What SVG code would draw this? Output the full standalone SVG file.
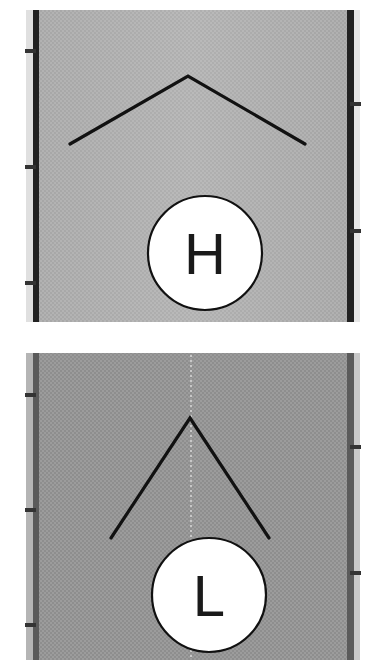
<svg xmlns="http://www.w3.org/2000/svg" width="390" height="660" viewBox="0 0 390 660">
<style>
.chev{fill:none;stroke:#111;stroke-width:3.2;stroke-linecap:round;stroke-linejoin:miter}
.badge{fill:#fff;stroke:#111;stroke-width:2.2}
.lbl{font-family:"Liberation Sans",Arial,sans-serif;font-size:58px;fill:#1a1a1a;text-anchor:middle}
.tick{stroke:#333;stroke-width:4}
</style>
<defs>
<pattern id="tex" width="4" height="4" patternUnits="userSpaceOnUse">
<rect width="4" height="4" fill="#000" fill-opacity="0"/>
<rect x="0" y="0" width="2" height="2" fill="#fff" fill-opacity="0.12"/>
<rect x="2" y="2" width="2" height="2" fill="#fff" fill-opacity="0.12"/>
</pattern>
<linearGradient id="bandTop" x1="0" x2="1" y1="0" y2="0">
<stop offset="0" stop-color="#a6a6a6"/>
<stop offset="0.5" stop-color="#b0b0b0"/>
<stop offset="1" stop-color="#a4a4a4"/>
</linearGradient>
</defs>
<rect width="390" height="660" fill="#fff"/>
<g id="panel-high">
<rect x="26" y="10" width="334" height="312" fill="url(#bandTop)"/>
<rect x="26" y="10" width="334" height="312" fill="url(#tex)"/>
<rect x="26" y="10" width="8" height="312" fill="#e0e0e0"/>
<rect x="33" y="10" width="6" height="312" fill="#222"/>
<rect x="347" y="10" width="7" height="312" fill="#222"/>
<rect x="354" y="10" width="6" height="312" fill="#e6e6e6"/>
<line class="tick" x1="25" y1="51" x2="36" y2="51"/>
<line class="tick" x1="25" y1="167" x2="36" y2="167"/>
<line class="tick" x1="25" y1="283" x2="36" y2="283"/>
<line class="tick" x1="350" y1="104" x2="361" y2="104"/>
<line class="tick" x1="350" y1="231" x2="361" y2="231"/>
<polyline class="chev" points="70,144 188,76 305,144"/>
<g id="node-H">
<circle class="badge" cx="205" cy="253" r="57"/>
<text class="lbl" x="205" y="274">H</text>
</g>
</g>
<g id="panel-low">
<rect x="26" y="353" width="334" height="307" fill="#8e8e8e"/>
<rect x="26" y="353" width="334" height="307" fill="url(#tex)"/>
<rect x="26" y="353" width="8" height="307" fill="#b5b5b5"/>
<rect x="33" y="353" width="6" height="307" fill="#5a5a5a"/>
<rect x="347" y="353" width="7" height="307" fill="#5a5a5a"/>
<rect x="354" y="353" width="6" height="307" fill="#c8c8c8"/>
<line x1="191" y1="355" x2="191" y2="660" stroke="#c8c8c8" stroke-width="2" stroke-dasharray="2 3"/>
<line class="tick" x1="25" y1="395" x2="36" y2="395"/>
<line class="tick" x1="25" y1="510" x2="36" y2="510"/>
<line class="tick" x1="25" y1="625" x2="36" y2="625"/>
<line class="tick" x1="350" y1="447" x2="361" y2="447"/>
<line class="tick" x1="350" y1="573" x2="361" y2="573"/>
<polyline class="chev" points="111,538 190,418 269,538"/>
<g id="node-L">
<circle class="badge" cx="209" cy="595" r="57"/>
<text class="lbl" x="209" y="616">L</text>
</g>
</g>
<g id="connectors"></g>
</svg>
